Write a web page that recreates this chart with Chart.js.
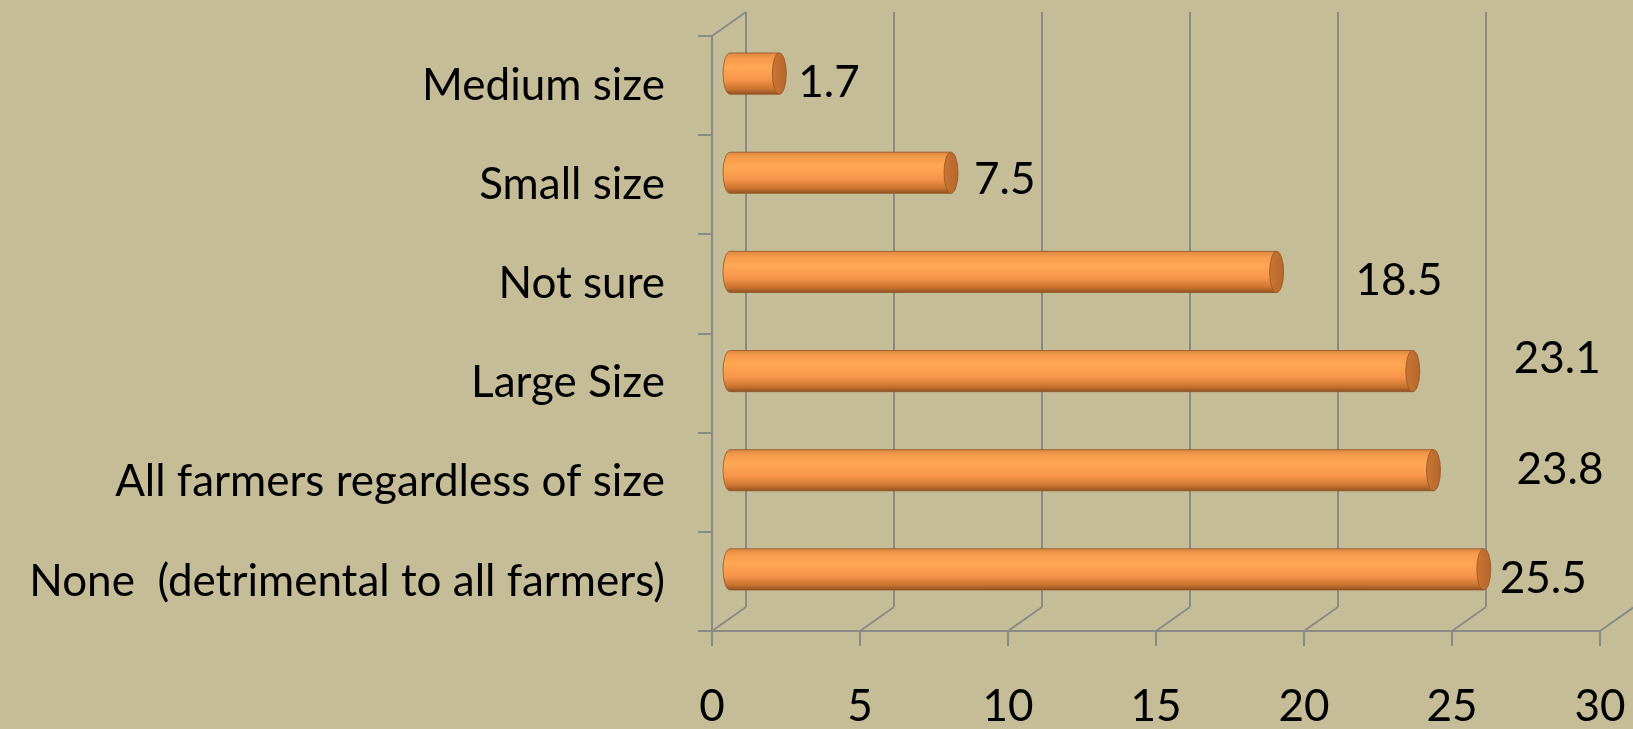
<!DOCTYPE html>
<html lang="en">
<head>
    <meta charset="UTF-8">
    <title>Farm size chart</title>
    <script src="https://cdn.jsdelivr.net/npm/chart.js@4.4.1/dist/chart.umd.min.js"></script>
    <style>
        html, body { margin: 0; padding: 0; background: #c5bd98; }
        canvas { display: block; }
    </style>
</head>
<body>
    <canvas id="bar-chart" width="1633" height="729"></canvas>

    <script>
        // Data
        const categories = [
            'Medium size',
            'Small size',
            'Not sure',
            'Large Size',
            'All farmers regardless of size',
            'None  (detrimental to all farmers)'
        ];
        const percentValues = [1.7, 7.5, 18.5, 23.1, 23.8, 25.5];
        const xTicks = [0, 5, 10, 15, 20, 25, 30];

        // Styling (not data): 3D depth and label nudges like the Excel original
        const depth = { dx: 34, dy: -24 };
        const labelNudge = [[0, 9], [4, 7], [60, 9], [82, -12], [64, 0], [-3, 9]];
        const gridColor = '#8a8a86';
        const fontFamily = 'Lato, "Open Sans", sans-serif';
        const fontSize = 44;

        // Draws the back wall, floor diagonals, cylinder bars and value labels
        const threeD = {
            id: 'threeD',
            beforeDatasetsDraw(chart) {
                const { ctx, chartArea } = chart;
                const x = chart.scales.x;
                ctx.save();
                ctx.strokeStyle = gridColor;
                ctx.lineWidth = 2;
                ctx.beginPath();
                xTicks.forEach(v => {
                    const px = x.getPixelForValue(v);
                    // floor diagonal
                    ctx.moveTo(px, chartArea.bottom);
                    ctx.lineTo(px + depth.dx, chartArea.bottom + depth.dy);
                    // back wall vertical
                    ctx.moveTo(px + depth.dx, chartArea.bottom + depth.dy);
                    ctx.lineTo(px + depth.dx, chartArea.top + depth.dy);
                });
                // left wall top edge
                ctx.moveTo(chartArea.left, chartArea.top);
                ctx.lineTo(chartArea.left + depth.dx, chartArea.top + depth.dy);
                ctx.stroke();
                ctx.restore();
            },
            afterDatasetsDraw(chart) {
                const { ctx } = chart;
                const meta = chart.getDatasetMeta(0);
                const ox = depth.dx / 2, oy = depth.dy / 2;
                ctx.save();
                meta.data.forEach((bar, i) => {
                    const top = bar.y - bar.height / 2 + oy;
                    const h = bar.height;
                    const cy = bar.y + oy;
                    const x0 = bar.base + ox;
                    const x1 = bar.x + ox;
                    const rx = 7, ry = h / 2;

                    const grad = ctx.createLinearGradient(0, top, 0, top + h);
                    grad.addColorStop(0, '#d98540');
                    grad.addColorStop(0.12, '#f59a4c');
                    grad.addColorStop(0.35, '#ffa852');
                    grad.addColorStop(0.65, '#f7954a');
                    grad.addColorStop(0.88, '#c9732f');
                    grad.addColorStop(1, '#8f5223');

                    ctx.fillStyle = grad;
                    ctx.strokeStyle = 'rgba(150, 85, 35, 0.8)';
                    ctx.lineWidth = 1;
                    ctx.beginPath();
                    ctx.moveTo(x1, top);
                    ctx.lineTo(x0, top);
                    ctx.ellipse(x0, cy, rx, ry, 0, -Math.PI / 2, Math.PI / 2, true);
                    ctx.lineTo(x1, top + h);
                    ctx.closePath();
                    ctx.fill();
                    ctx.stroke();

                    // end cap
                    const capGrad = ctx.createLinearGradient(x1 - rx, 0, x1 + rx, 0);
                    capGrad.addColorStop(0, '#c97634');
                    capGrad.addColorStop(1, '#b7662b');
                    ctx.fillStyle = capGrad;
                    ctx.beginPath();
                    ctx.ellipse(x1, cy, rx, ry, 0, 0, Math.PI * 2);
                    ctx.fill();
                    ctx.stroke();

                    // value label
                    const n = labelNudge[i] || [0, 0];
                    ctx.fillStyle = '#000';
                    ctx.font = fontSize + 'px ' + fontFamily;
                    ctx.textAlign = 'left';
                    ctx.textBaseline = 'middle';
                    ctx.fillText(String(percentValues[i]), x1 + rx + 12 + n[0], bar.y + oy + n[1]);
                });
                ctx.restore();
            }
        };

        new Chart(document.getElementById('bar-chart'), {
            type: 'bar',
            data: {
                labels: categories,
                datasets: [{
                    data: percentValues,
                    backgroundColor: 'rgba(0,0,0,0)',
                    borderWidth: 0,
                    barPercentage: 0.5,
                    categoryPercentage: 0.83
                }]
            },
            options: {
                indexAxis: 'y',
                responsive: false,
                animation: false,
                layout: { padding: { top: 36, right: 33, left: 0, bottom: 0 } },
                plugins: {
                    legend: { display: false },
                    tooltip: { enabled: false }
                },
                scales: {
                    x: {
                        min: 0,
                        max: 30,
                        afterBuildTicks: scale => { scale.ticks = xTicks.map(v => ({ value: v })); },
                        afterFit: scale => {
                            scale.height = 98;
                            scale.paddingLeft = 0;
                            scale.paddingRight = 0;
                        },
                        border: { display: true, color: gridColor, width: 2 },
                        grid: { drawOnChartArea: false, drawTicks: true, tickLength: 15, color: gridColor, lineWidth: 2 },
                        ticks: {
                            color: '#000',
                            padding: 34,
                            maxRotation: 0,
                            font: { family: fontFamily, size: fontSize }
                        }
                    },
                    y: {
                        afterFit: scale => {
                            scale.width = 712;
                            scale.paddingTop = 0;
                            scale.paddingBottom = 0;
                        },
                        border: { display: true, color: gridColor, width: 2 },
                        grid: { drawOnChartArea: false, drawTicks: true, tickLength: 14, color: gridColor, lineWidth: 2 },
                        ticks: {
                            color: '#000',
                            padding: 33,
                            font: { family: fontFamily, size: fontSize }
                        }
                    }
                }
            },
            plugins: [threeD]
        });
    </script>
</body>
</html>
